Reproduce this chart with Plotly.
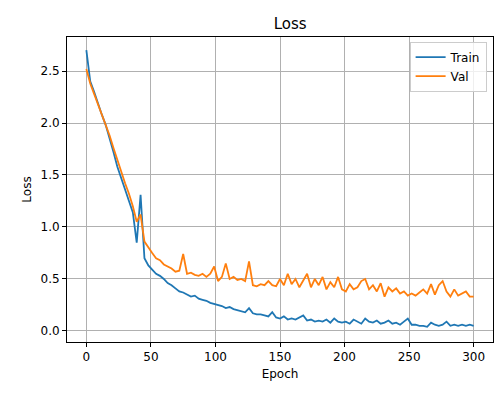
import plotly.graph_objects as go

# losses sampled every 3 epochs
train = [2.70, 2.40, 2.30, 2.18, 2.08, 1.98, 1.86, 1.72, 1.58, 1.46,
         1.36, 1.25, 1.14, 0.85, 1.31, 0.70, 0.63, 0.59, 0.55, 0.53,
         0.50, 0.46, 0.44, 0.41, 0.38, 0.37, 0.35, 0.33, 0.34, 0.31,
         0.30, 0.29, 0.27, 0.26, 0.25, 0.24, 0.22, 0.23, 0.21, 0.20,
         0.19, 0.18, 0.22, 0.17, 0.16, 0.16, 0.15, 0.14, 0.18, 0.13,
         0.12, 0.14, 0.11, 0.12, 0.11, 0.13, 0.15, 0.10, 0.11, 0.09,
         0.10, 0.09, 0.11, 0.08, 0.12, 0.09, 0.08, 0.09, 0.07, 0.11,
         0.09, 0.07, 0.12, 0.09, 0.08, 0.10, 0.07, 0.08, 0.10, 0.07,
         0.08, 0.06, 0.09, 0.12, 0.06, 0.06, 0.05, 0.05, 0.04, 0.08,
         0.06, 0.05, 0.06, 0.09, 0.05, 0.06, 0.05, 0.06, 0.05, 0.06,
         0.05]
val = [2.52, 2.38, 2.28, 2.18, 2.10, 1.98, 1.88, 1.76, 1.64, 1.52,
       1.42, 1.32, 1.20, 1.05, 1.12, 0.86, 0.80, 0.75, 0.70, 0.68,
       0.64, 0.62, 0.60, 0.57, 0.58, 0.74, 0.55, 0.56, 0.54, 0.53,
       0.55, 0.52, 0.55, 0.62, 0.48, 0.52, 0.65, 0.50, 0.52, 0.49,
       0.50, 0.48, 0.67, 0.44, 0.43, 0.45, 0.44, 0.48, 0.44, 0.43,
       0.50, 0.44, 0.55, 0.45, 0.50, 0.42, 0.48, 0.55, 0.42, 0.50,
       0.44, 0.52, 0.40, 0.47, 0.42, 0.52, 0.40, 0.38, 0.45, 0.40,
       0.42, 0.48, 0.50, 0.40, 0.44, 0.38, 0.46, 0.33, 0.42, 0.38,
       0.41, 0.36, 0.38, 0.34, 0.36, 0.34, 0.37, 0.40, 0.36, 0.45,
       0.35, 0.44, 0.48, 0.38, 0.33, 0.40, 0.34, 0.36, 0.38, 0.33,
       0.33]
epochs = list(range(0, 3 * len(train), 3))

fig = go.Figure()
fig.add_trace(go.Scatter(x=epochs, y=train, mode='lines', name='Train',
                         line=dict(color='#1f77b4', width=1.8)))
fig.add_trace(go.Scatter(x=epochs, y=val, mode='lines', name='Val',
                         line=dict(color='#ff7f0e', width=1.8)))

axis_style = dict(showline=True, mirror=True, linecolor='black', linewidth=1,
                  showgrid=True, gridcolor='#b0b0b0', gridwidth=1, zeroline=False,
                  ticks='outside', ticklen=4, tickcolor='black',
                  tickfont=dict(size=12, color='black'))
# the page adds an 8px body margin, so margins are shifted to compensate
fig.update_layout(
    width=504, height=400,
    margin=dict(l=59, r=19, t=29, b=66),
    paper_bgcolor='white', plot_bgcolor='white',
    font=dict(family='DejaVu Sans', color='black'),
    title=dict(text='Loss', x=0.56, xanchor='center', y=0.96, yanchor='middle',
               font=dict(size=15)),
    xaxis=dict(axis_style, range=[-15, 315], tickvals=[0, 50, 100, 150, 200, 250, 300],
               title=dict(text='Epoch', font=dict(size=12), standoff=6)),
    yaxis=dict(axis_style, range=[-0.106, 2.827], tickvals=[0, 0.5, 1, 1.5, 2, 2.5],
               tickformat='.1f', title=dict(text='Loss', font=dict(size=12), standoff=6)),
    legend=dict(x=0.985, y=0.985, xanchor='right', yanchor='top',
                bgcolor='rgba(255,255,255,0.8)', bordercolor='#cccccc', borderwidth=1,
                font=dict(size=12)),
)
fig.write_html("out.html")
